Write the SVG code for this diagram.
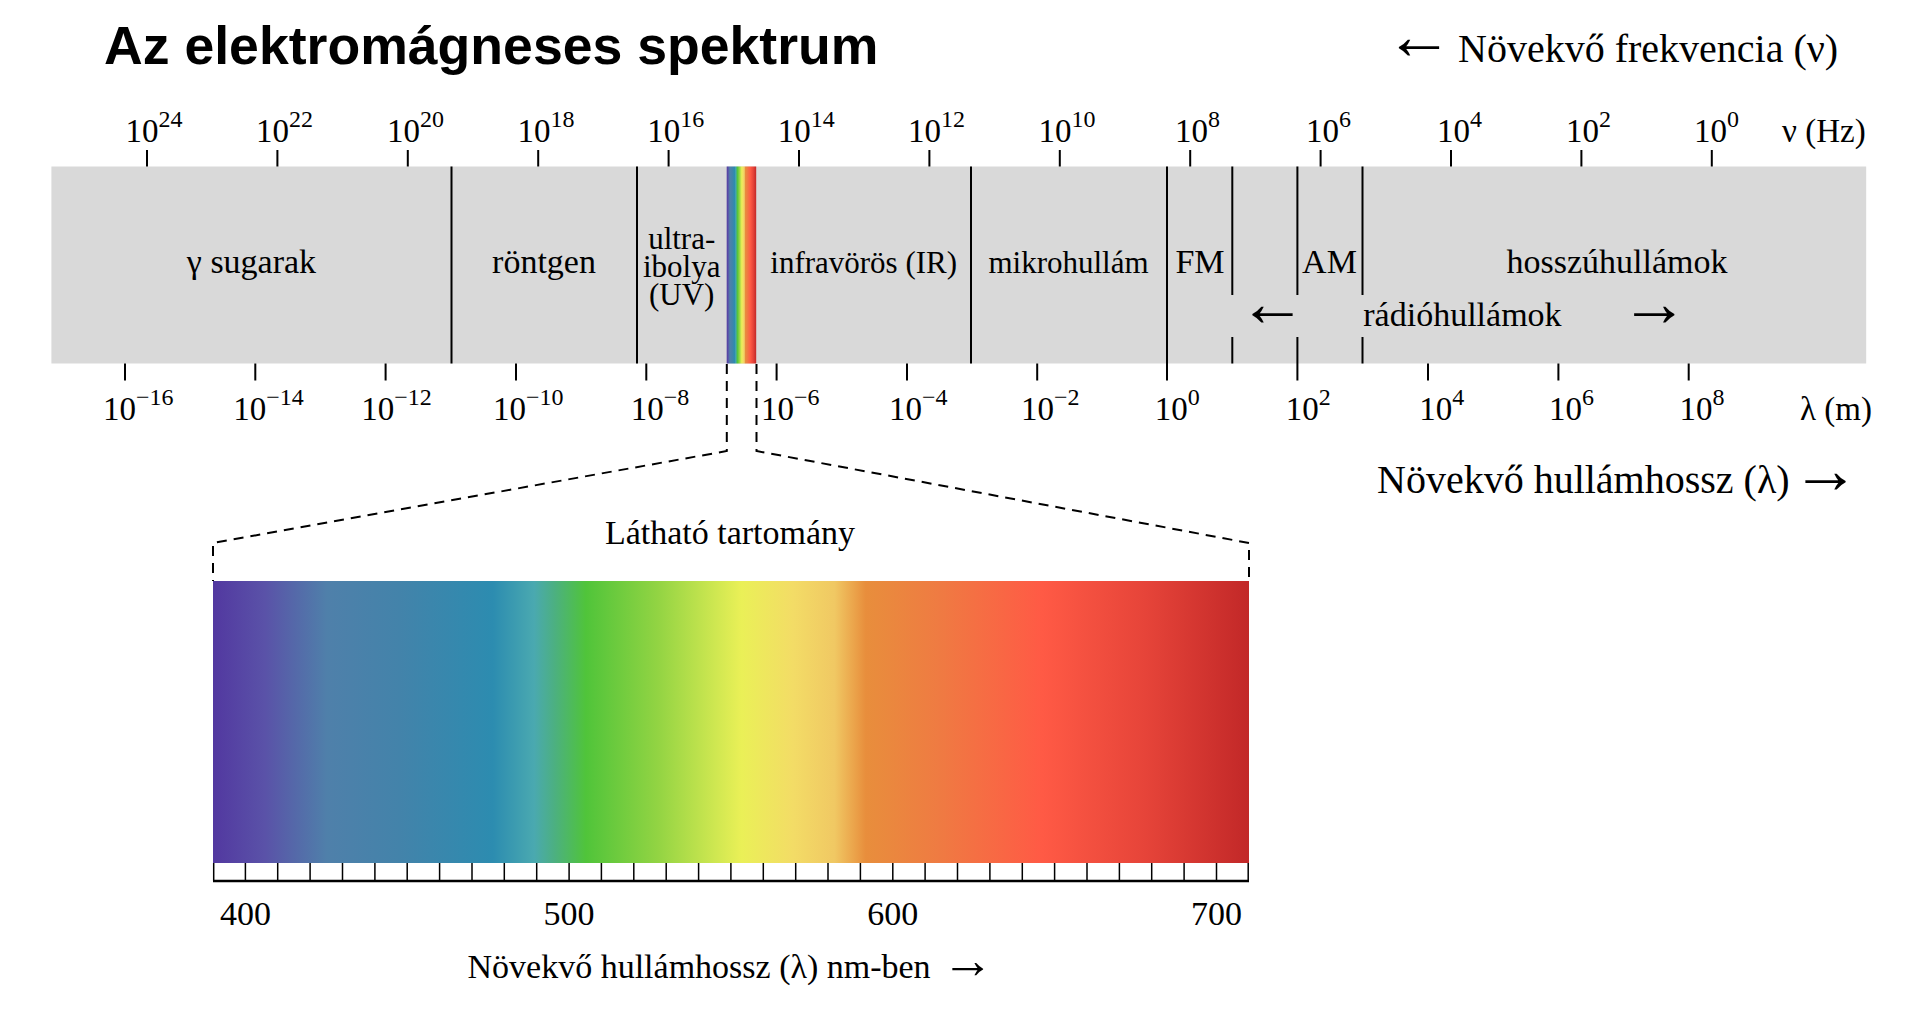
<svg xmlns="http://www.w3.org/2000/svg" width="1920" height="1028" viewBox="0 0 1920 1028">
<defs>
<linearGradient id="spec" x1="0" y1="0" x2="1" y2="0">
<stop offset="0" stop-color="#5238a0"/>
<stop offset="0.05" stop-color="#5a52a8"/>
<stop offset="0.11" stop-color="#4f80aa"/>
<stop offset="0.18" stop-color="#4383aa"/>
<stop offset="0.27" stop-color="#2c8cb0"/>
<stop offset="0.31" stop-color="#4aa9b0"/>
<stop offset="0.33" stop-color="#4cb080"/>
<stop offset="0.36" stop-color="#50c43a"/>
<stop offset="0.43" stop-color="#93d443"/>
<stop offset="0.51" stop-color="#eaf057"/>
<stop offset="0.56" stop-color="#f3dc66"/>
<stop offset="0.60" stop-color="#f0c863"/>
<stop offset="0.63" stop-color="#e88e3c"/>
<stop offset="0.70" stop-color="#ef7b42"/>
<stop offset="0.80" stop-color="#ff5a45"/>
<stop offset="0.90" stop-color="#e64439"/>
<stop offset="1" stop-color="#c22828"/>
</linearGradient>
</defs>
<style>
.t{font-family:"Liberation Serif","Times New Roman",serif;fill:#000}
.ax{font-size:33px}
.sup{font-size:24px}
.lb{font-size:34px}
.lbs{font-size:31px}
.cap{font-size:40px}
.arr{font-size:68px;text-anchor:middle}
.mid{text-anchor:middle}
.ln{stroke:#000;stroke-width:2;fill:none}
.dash{stroke:#000;stroke-width:2;fill:none;stroke-dasharray:10,7}
.thin{stroke:#000;stroke-width:1.5;fill:none}
</style>
<rect width="1920" height="1028" fill="#fff"/>

<g id="title">
<text x="104" y="64" style="font-family:'Liberation Sans',Arial,sans-serif;font-weight:bold;font-size:53.6px">Az elektromágneses spektrum</text>
</g>

<g id="freq-caption">
<text class="t arr" x="1419" y="59">←</text>
<text class="t cap" x="1458" y="62">Növekvő frekvencia (ν)</text>
</g>

<g id="spectrum-bar">
<rect x="51.4" y="166.5" width="1814.8" height="197" fill="#d9d9d9"/>
<rect x="726.7" y="166.5" width="29.5" height="197" fill="url(#spec)"/>
<path class="ln" d="M451.5,166.5V363.5M637,166.5V363.5M971,166.5V363.5M1167,166.5V380.5M1232.3,166.5V295M1232.3,337V363.5M1297.4,166.5V295M1297.4,337V380.5M1362.5,166.5V295M1362.5,337V363.5"/>
</g>

<g id="band-gamma"><text class="t lb mid" x="251.5" y="273">γ sugarak</text></g>
<g id="band-xray"><text class="t lb mid" x="544" y="273">röntgen</text></g>
<g id="band-uv">
<text class="t lbs mid" x="681.7" y="249">ultra-</text>
<text class="t lbs mid" x="681.7" y="277">ibolya</text>
<text class="t lbs mid" x="681.7" y="305">(UV)</text>
</g>
<g id="band-ir"><text class="t lbs mid" x="863.7" y="273">infravörös (IR)</text></g>
<g id="band-micro"><text class="t lbs mid" x="1068.5" y="273">mikrohullám</text></g>
<g id="band-fm"><text class="t lb mid" x="1200" y="273">FM</text></g>
<g id="band-am"><text class="t lb mid" x="1329.5" y="273">AM</text></g>
<g id="band-long"><text class="t lb mid" x="1617" y="273">hosszúhullámok</text></g>
<g id="band-radio">
<text class="t arr" x="1272.5" y="326">←</text>
<text class="t lb" x="1363.3" y="326">rádióhullámok</text>
<text class="t arr" x="1654.3" y="326">→</text>
</g>

<g id="freq-axis">
<path class="ln" d="M147,150V166.5M277.4,150V166.5M407.8,150V166.5M538.2,150V166.5M668.6,150V166.5M799,150V166.5M929.4,150V166.5M1059.8,150V166.5M1190.2,150V166.5M1320.6,150V166.5M1451,150V166.5M1581.4,150V166.5M1711.8,150V166.5"/>
<text class="t ax" x="125.5" y="142">10<tspan class="sup" dy="-15">24</tspan></text>
<text class="t ax" x="256" y="142">10<tspan class="sup" dy="-15">22</tspan></text>
<text class="t ax" x="387" y="142">10<tspan class="sup" dy="-15">20</tspan></text>
<text class="t ax" x="517.5" y="142">10<tspan class="sup" dy="-15">18</tspan></text>
<text class="t ax" x="647.3" y="142">10<tspan class="sup" dy="-15">16</tspan></text>
<text class="t ax" x="777.7" y="142">10<tspan class="sup" dy="-15">14</tspan></text>
<text class="t ax" x="908" y="142">10<tspan class="sup" dy="-15">12</tspan></text>
<text class="t ax" x="1038.4" y="142">10<tspan class="sup" dy="-15">10</tspan></text>
<text class="t ax" x="1175" y="142">10<tspan class="sup" dy="-15">8</tspan></text>
<text class="t ax" x="1306" y="142">10<tspan class="sup" dy="-15">6</tspan></text>
<text class="t ax" x="1437" y="142">10<tspan class="sup" dy="-15">4</tspan></text>
<text class="t ax" x="1566" y="142">10<tspan class="sup" dy="-15">2</tspan></text>
<text class="t ax" x="1694" y="142">10<tspan class="sup" dy="-15">0</tspan></text>
<text class="t ax" x="1782" y="142">ν (Hz)</text>
</g>

<g id="wave-axis">
<path class="ln" d="M125,363.5V380.5M255.3,363.5V380.5M385.6,363.5V380.5M516,363.5V380.5M646.3,363.5V380.5M776.6,363.5V380.5M907,363.5V380.5M1037.2,363.5V380.5M1428,363.5V380.5M1558.4,363.5V380.5M1688.7,363.5V380.5"/>
<text class="t ax" x="103" y="420">10<tspan class="sup" dy="-15">−16</tspan></text>
<text class="t ax" x="233.3" y="420">10<tspan class="sup" dy="-15">−14</tspan></text>
<text class="t ax" x="361.3" y="420">10<tspan class="sup" dy="-15">−12</tspan></text>
<text class="t ax" x="493" y="420">10<tspan class="sup" dy="-15">−10</tspan></text>
<text class="t ax" x="630.7" y="420">10<tspan class="sup" dy="-15">−8</tspan></text>
<text class="t ax" x="761" y="420">10<tspan class="sup" dy="-15">−6</tspan></text>
<text class="t ax" x="889" y="420">10<tspan class="sup" dy="-15">−4</tspan></text>
<text class="t ax" x="1021" y="420">10<tspan class="sup" dy="-15">−2</tspan></text>
<text class="t ax" x="1154.7" y="420">10<tspan class="sup" dy="-15">0</tspan></text>
<text class="t ax" x="1285.8" y="420">10<tspan class="sup" dy="-15">2</tspan></text>
<text class="t ax" x="1419.3" y="420">10<tspan class="sup" dy="-15">4</tspan></text>
<text class="t ax" x="1549" y="420">10<tspan class="sup" dy="-15">6</tspan></text>
<text class="t ax" x="1679.5" y="420">10<tspan class="sup" dy="-15">8</tspan></text>
<text class="t ax" x="1800" y="420">λ (m)</text>
</g>

<g id="wave-caption">
<text class="t cap" x="1377" y="493">Növekvő hullámhossz (λ)</text>
<text class="t arr" x="1825.5" y="492.5">→</text>
</g>

<g id="connectors">
<path class="dash" d="M726.8,364V451L213,543V581"/>
<path class="dash" d="M756.5,364V451L1249,543V581"/>
</g>

<g id="visible-spectrum">
<text class="t lb mid" x="730" y="544">Látható tartomány</text>
<rect x="213" y="581" width="1036" height="282" fill="url(#spec)"/>
<rect x="213" y="863" width="1036" height="18" fill="#fff"/>
<path class="thin" d="M213.7,863V881M245.4,863V881M277.7,863V881M310.1,863V881M342.5,863V881M374.9,863V881M407.2,863V881M439.6,863V881M472,863V881M504.3,863V881M536.7,863V881M569.1,863V881M601.4,863V881M633.8,863V881M666.2,863V881M698.6,863V881M730.9,863V881M763.3,863V881M795.7,863V881M828,863V881M860.4,863V881M892.8,863V881M925.1,863V881M957.5,863V881M989.9,863V881M1022.3,863V881M1054.6,863V881M1087,863V881M1119.4,863V881M1151.7,863V881M1184.1,863V881M1216.5,863V881M1248.2,863V881"/>
<path d="M213,881H1249" stroke="#000" stroke-width="2.5"/>
<text class="t lb mid" x="245.4" y="925">400</text>
<text class="t lb mid" x="569.1" y="925">500</text>
<text class="t lb mid" x="892.8" y="925">600</text>
<text class="t lb mid" x="1216.5" y="925">700</text>
<text class="t lb" x="467.5" y="978">Növekvő hullámhossz (λ) nm-ben</text>
<text class="t" x="967.5" y="977.5" style="font-size:52px;text-anchor:middle">→</text>
</g>
</svg>
